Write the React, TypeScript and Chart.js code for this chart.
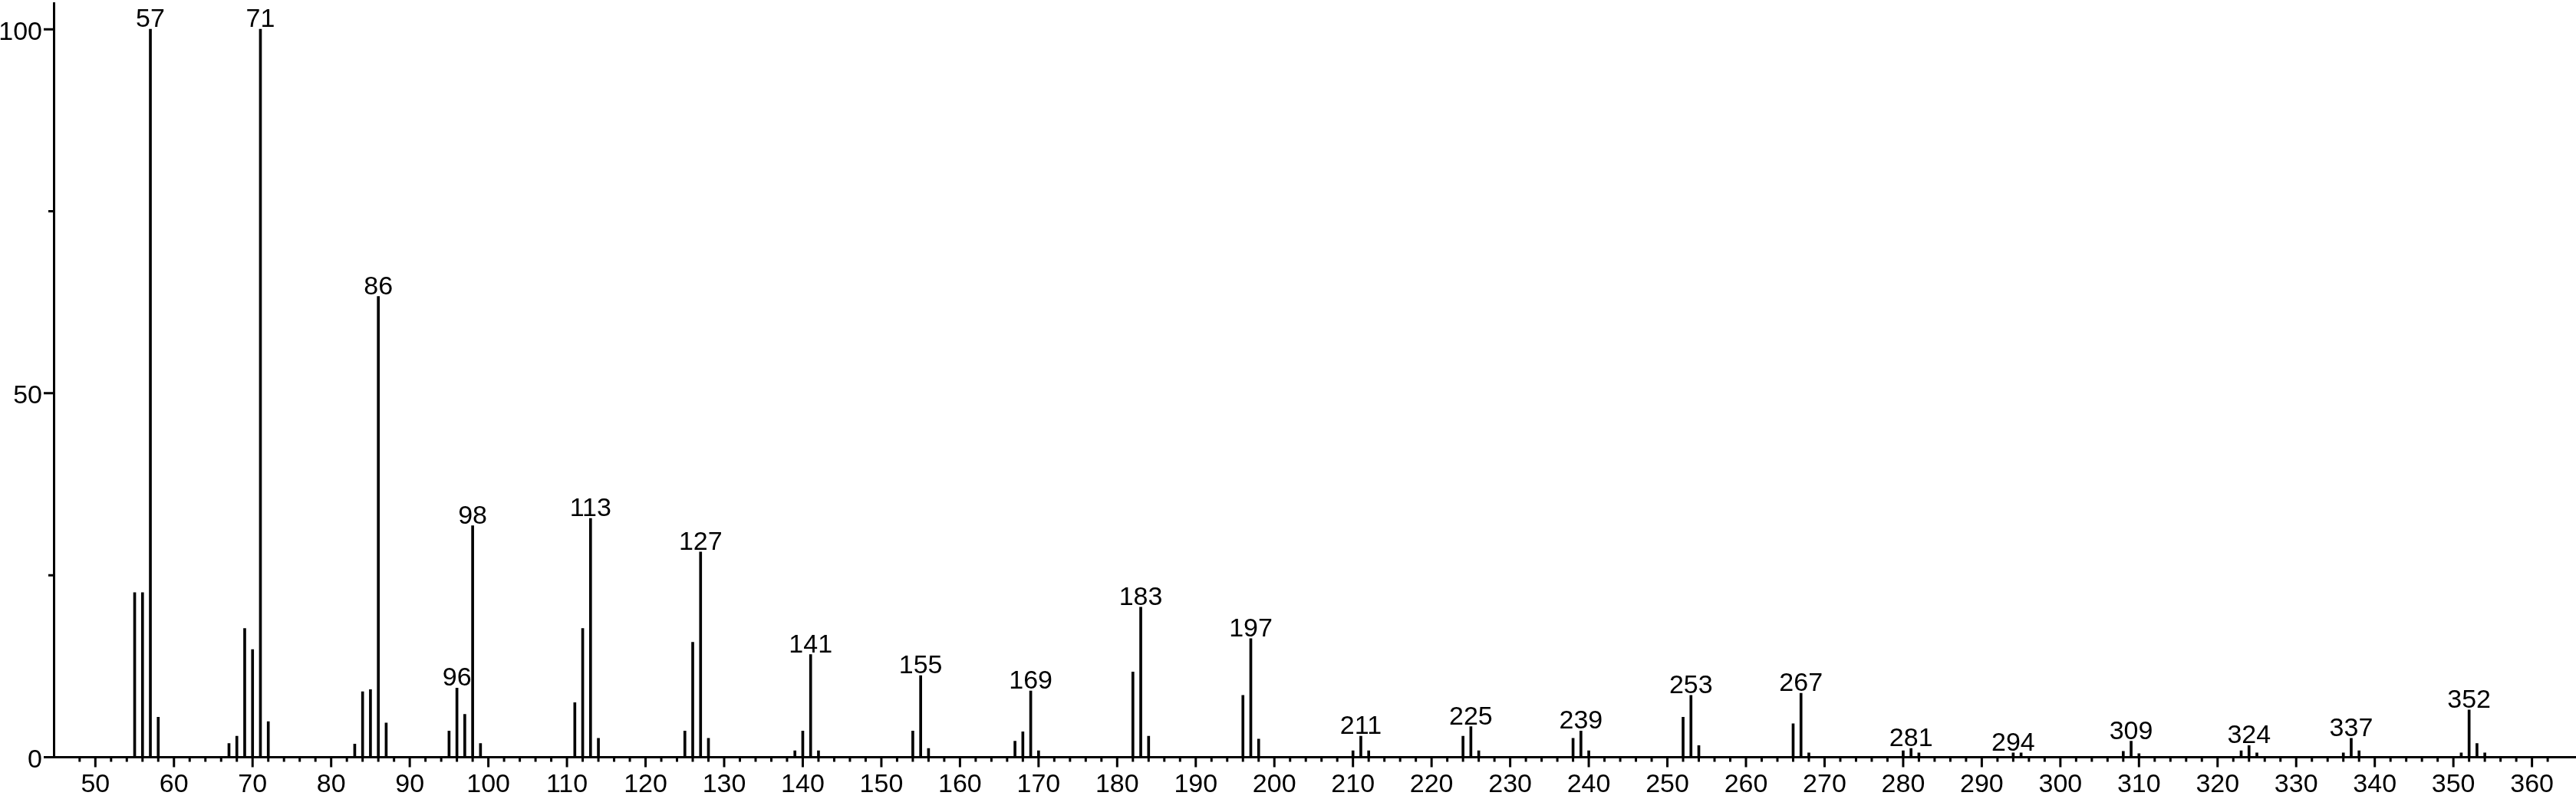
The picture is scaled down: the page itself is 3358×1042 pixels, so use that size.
import React, { useEffect, useRef } from "react";
import { Chart, registerables } from "chart.js";

Chart.register(...registerables);

// m/z values of the peaks
const masses = [
  55, 56, 57, 58, 67, 68, 69, 70, 71, 72,
  83, 84, 85, 86, 87, 95, 96, 97, 98, 99,
  111, 112, 113, 114, 125, 126, 127, 128,
  139, 140, 141, 142, 154, 155, 156,
  167, 168, 169, 170, 182, 183, 184,
  196, 197, 198, 210, 211, 212,
  224, 225, 226, 238, 239, 240,
  252, 253, 254, 266, 267, 268,
  280, 281, 282, 294, 295,
  308, 309, 310, 323, 324, 325,
  336, 337, 338, 351, 352, 353, 354,
];

// relative intensities (%)
const intensities = [
  22.6, 22.6, 100, 5.5, 1.9, 2.9, 17.7, 14.8, 100, 4.9,
  1.8, 9.0, 9.3, 63.3, 4.7, 3.6, 9.5, 5.9, 31.8, 1.9,
  7.5, 17.7, 32.8, 2.6, 3.6, 15.8, 28.2, 2.6,
  0.9, 3.6, 14.1, 0.9, 3.6, 11.2, 1.2,
  2.2, 3.5, 9.1, 0.9, 11.7, 20.6, 2.9,
  8.5, 16.3, 2.5, 0.9, 2.9, 0.9,
  2.9, 4.2, 0.9, 2.6, 3.6, 0.9,
  5.5, 8.5, 1.6, 4.6, 8.8, 0.6,
  0.9, 1.2, 0.6, 0.6, 0.6,
  0.8, 2.2, 0.5, 0.9, 1.6, 0.6,
  0.6, 2.6, 0.9, 0.6, 6.5, 1.9, 0.6,
];

// peaks that carry an m/z label
const labeledMasses = [
  57, 71, 86, 96, 98, 113, 127, 141, 155, 169, 183, 197,
  211, 225, 239, 253, 267, 281, 294, 309, 324, 337, 352,
];

const X_MIN = 44.7;
const X_MAX = 365.6;
const Y_MIN = 0;
const Y_MAX = 103.6;

const FONT = '"Liberation Sans", Arial, Helvetica, sans-serif';
const FONT_SIZE = 34;

const isMult = (v: number, s: number) => Math.abs(v / s - Math.round(v / s)) < 1e-6;

const tickPlugin = {
  id: "customTicks",
  afterDraw(chart: any) {
    const ctx = chart.ctx;
    const xs = chart.scales.x;
    const ys = chart.scales.y;
    const area = chart.chartArea;
    ctx.save();
    ctx.strokeStyle = "#000";
    ctx.lineWidth = 3;
    ctx.lineCap = "butt";
    ctx.beginPath();
    xs.ticks.forEach((t: any) => {
      const v = t.value;
      if (!isMult(v, 2)) return;
      const px = xs.getPixelForValue(v);
      const len = isMult(v, 10) ? 13 : 6;
      ctx.moveTo(px, area.bottom);
      ctx.lineTo(px, area.bottom + len);
    });
    ys.ticks.forEach((t: any) => {
      const v = t.value;
      if (!isMult(v, 25)) return;
      const py = ys.getPixelForValue(v);
      const len = isMult(v, 50) ? 13 : 7;
      ctx.moveTo(area.left, py);
      ctx.lineTo(area.left - len, py);
    });
    ctx.stroke();
    ctx.restore();
  },
};

const peakLabelPlugin = {
  id: "peakLabels",
  afterDatasetsDraw(chart: any) {
    const ctx = chart.ctx;
    const meta = chart.getDatasetMeta(0);
    ctx.save();
    ctx.fillStyle = "#000";
    ctx.font = `${FONT_SIZE}px ${FONT}`;
    ctx.textAlign = "center";
    ctx.textBaseline = "alphabetic";
    meta.data.forEach((el: any, i: number) => {
      const m = masses[i];
      if (!labeledMasses.includes(m)) return;
      ctx.fillText(String(m), el.x, el.y - 3);
    });
    ctx.restore();
  },
};

export default function App() {
  const ref = useRef<HTMLCanvasElement | null>(null);

  useEffect(() => {
    document.body.style.margin = "0";
    const canvas = ref.current;
    if (!canvas) return;
    const data = masses.map((m, i) => ({ x: m, y: intensities[i] }));
    const chart = new Chart(canvas, {
      type: "bar",
      data: {
        datasets: [
          {
            data: data as any,
            backgroundColor: "#000",
            borderWidth: 0,
            barThickness: 3,
            grouped: false,
          } as any,
        ],
      },
      options: {
        animation: false,
        responsive: true,
        maintainAspectRatio: false,
        devicePixelRatio: 1,
        layout: { padding: { top: 4, right: 0, left: 0, bottom: 0 } },
        plugins: {
          legend: { display: false },
          tooltip: { enabled: false },
        },
        scales: {
          x: {
            type: "linear",
            min: X_MIN,
            max: X_MAX,
            offset: false,
            grid: { display: false, drawTicks: false },
            border: { display: true, color: "#000", width: 3 },
            ticks: {
              stepSize: 2,
              autoSkip: false,
              maxRotation: 0,
              minRotation: 0,
              padding: 16,
              color: "#000",
              font: { family: FONT, size: FONT_SIZE },
              callback: (v: any) => (isMult(Number(v), 10) ? String(v) : ""),
            },
            afterFit: (s: any) => {
              s.height = 54.5;
              s.paddingLeft = 0;
              s.paddingRight = 0;
            },
          },
          y: {
            type: "linear",
            min: Y_MIN,
            max: Y_MAX,
            grid: { display: false, drawTicks: false },
            border: { display: true, color: "#000", width: 3 },
            ticks: {
              stepSize: 25,
              includeBounds: false,
              padding: 15,
              labelOffset: 4,
              color: "#000",
              font: { family: FONT, size: FONT_SIZE },
              callback: (v: any) => (isMult(Number(v), 50) ? String(v) : ""),
            },
            afterFit: (s: any) => {
              s.width = 70;
              s.paddingTop = 0;
              s.paddingBottom = 0;
            },
          },
        },
      } as any,
      plugins: [tickPlugin, peakLabelPlugin],
    });
    return () => chart.destroy();
  }, []);

  return (
    <div
      style={{
        position: "fixed",
        left: 0,
        top: 0,
        width: "3358px",
        height: "1042px",
        background: "#fff",
      }}
    >
      <canvas ref={ref} />
    </div>
  );
}
